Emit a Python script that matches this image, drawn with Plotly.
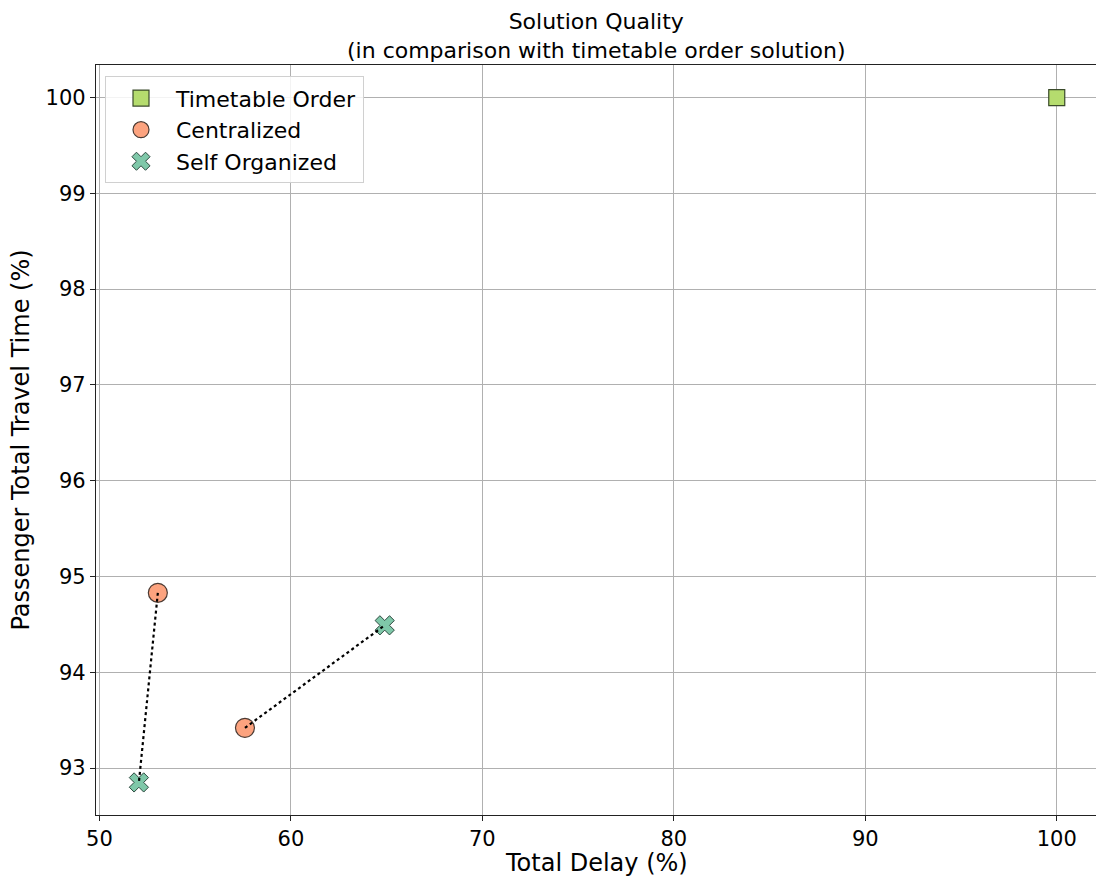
import plotly.graph_objects as go

# Data (Total Delay %, Passenger Total Travel Time %)
timetable_x = [100.0]
timetable_y = [100.0]
central_x = [53.05, 57.6]
central_y = [94.83, 93.42]
selforg_x = [52.06, 64.9]
selforg_y = [92.85, 94.49]

x_ticks = [50, 60, 70, 80, 90, 100]
y_ticks = [93, 94, 95, 96, 97, 98, 99, 100]

FONT = "DejaVu Sans"

fig = go.Figure()

fig.add_trace(go.Scatter(
    x=timetable_x, y=timetable_y, mode="markers", name="Timetable Order",
    marker=dict(symbol="square", size=16, color="#b5dc6e",
                line=dict(color="#3a4a2a", width=1.2))))
fig.add_trace(go.Scatter(
    x=central_x, y=central_y, mode="markers", name="Centralized",
    marker=dict(symbol="circle", size=19, color="#fca37f",
                line=dict(color="#4a3a33", width=1.2))))
fig.add_trace(go.Scatter(
    x=selforg_x, y=selforg_y, mode="markers", name="Self Organized",
    marker=dict(symbol="x", size=17, color="#7fc8a9",
                line=dict(color="#2e4a40", width=1.0))))

# dotted connecting lines (centralized <-> self organized pairs)
for i in range(len(central_x)):
    fig.add_trace(go.Scatter(
        x=[central_x[i], selforg_x[i]], y=[central_y[i], selforg_y[i]],
        mode="lines", showlegend=False, hoverinfo="skip",
        line=dict(color="black", width=2.2, dash="dot")))

axis_common = dict(
    showgrid=True, gridcolor="#b0b0b0", gridwidth=1,
    showline=True, linecolor="#222", linewidth=1.2, mirror=True,
    ticks="outside", ticklen=5, tickcolor="#222", tickwidth=1,
    tickfont=dict(family=FONT, size=21, color="black"),
    zeroline=False,
)

fig.update_layout(
    width=1096, height=876,
    margin=dict(l=96, r=0, t=65, b=61),
    paper_bgcolor="white", plot_bgcolor="white",
    font=dict(family=FONT, color="black"),
    xaxis=dict(range=[49.82, 102.05], tickvals=x_ticks, **axis_common),
    yaxis=dict(range=[92.51, 100.34], tickvals=y_ticks,
               title=dict(text="Passenger Total Travel Time (%)", font=dict(family=FONT, size=24), standoff=9),
               **axis_common),
    legend=dict(
        x=0.009, y=0.985, xanchor="left", yanchor="top",
        bgcolor="rgba(255,255,255,0.85)", bordercolor="#d0d0d0", borderwidth=1,
        font=dict(family=FONT, size=22, color="black"),
        itemsizing="trace", itemwidth=60),
    showlegend=True,
    annotations=[
        dict(text="Solution Quality<br>(in comparison with timetable order solution)",
             xref="paper", yref="paper", x=0.5, y=1.0,
             xanchor="center", yanchor="bottom", showarrow=False,
             font=dict(family=FONT, size=22, color="black")),
        dict(text="Total Delay (%)",
             xref="paper", yref="paper", x=0.5, y=0.0, yshift=-32,
             xanchor="center", yanchor="top", showarrow=False,
             font=dict(family=FONT, size=24, color="black")),
    ],
)

fig.write_html("out.html")
